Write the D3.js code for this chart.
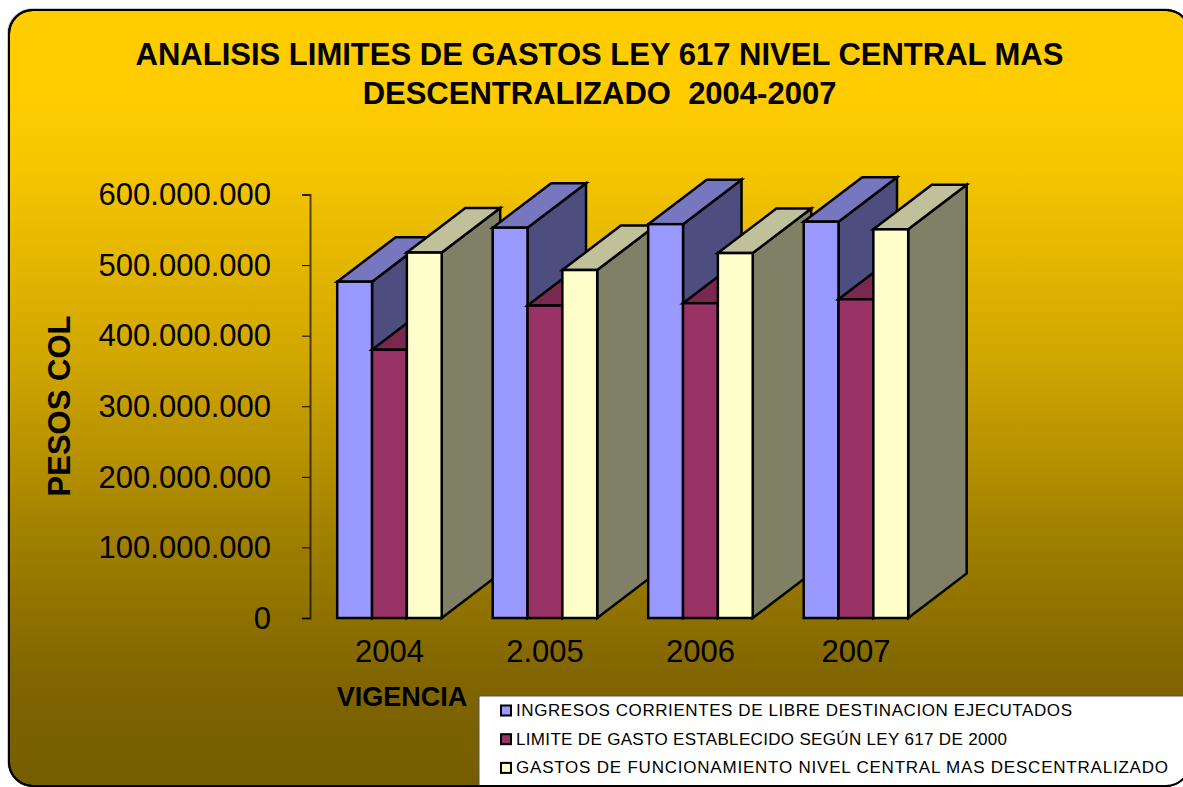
<!DOCTYPE html>
<html><head><meta charset="utf-8">
<script src="https://cdn.jsdelivr.net/npm/d3@7/dist/d3.min.js"></script>
<style>html,body{margin:0;padding:0;background:#fff}svg{display:block}text{font-family:"Liberation Sans",Arial,sans-serif;fill:#000}</style>
</head><body><div id="chart"></div>
<script>
const categories = ["2004","2.005","2006","2007"];
const seriesNames = ["INGRESOS CORRIENTES DE LIBRE DESTINACION EJECUTADOS","LIMITE DE GASTO ESTABLECIDO SEGÚN LEY 617 DE 2000","GASTOS DE FUNCIONAMIENTO NIVEL CENTRAL MAS DESCENTRALIZADO"];
const ingresos = [476500000,553000000,558000000,561500000];
const limite = [380000000,442600000,446000000,451600000];
const gastos = [517700000,493000000,517000000,550600000];
const tickValues = [0,100000000,200000000,300000000,400000000,500000000,600000000];
const titleLines = ["ANALISIS LIMITES DE GASTOS LEY 617 NIVEL CENTRAL MAS","DESCENTRALIZADO  2004-2007"];
const frontColors = ["#9999FF","#993366","#FFFFCC"];
const topColors = ["#7777C0","#7A2850","#C0C09A"];
const sideColors = ["#4D4D80","#732650","#808066"];

const W=1183,H=787;
const svg=d3.select("#chart").append("svg").attr("width",W).attr("height",H);
const defs=svg.append("defs");
const g=defs.append("linearGradient").attr("id","bg").attr("gradientUnits","userSpaceOnUse").attr("x1",0).attr("y1",0).attr("x2",0).attr("y2",787);
[[100,"#FFCC00"],[170,"#F5C500"],[360,"#D0A600"],[540,"#A07F00"],[600,"#917400"],[680,"#806500"],[787,"#755D00"]]
  .forEach(s=>g.append("stop").attr("offset",s[0]/787).attr("stop-color",s[1]));
defs.append("clipPath").attr("id","frame").append("rect").attr("x",9).attr("y",10).attr("width",1181).attr("height",776).attr("rx",24);

svg.append("rect").attr("x",8).attr("y",9).attr("width",1181).attr("height",776).attr("rx",24).attr("fill","none").attr("stroke","#BBB").attr("stroke-width",1.5);
svg.append("rect").attr("x",9).attr("y",10).attr("width",1181).attr("height",776).attr("rx",24)
  .attr("fill","url(#bg)").attr("stroke","#000").attr("stroke-width",2);

titleLines.forEach((t,i)=>svg.append("text").attr("x",599.5).attr("y",65+i*39).attr("text-anchor","middle")
  .attr("font-size",31).attr("font-weight","bold").attr("xml:space","preserve").text(t));

const y=d3.scaleLinear().domain([0,600000000]).range([618,194.5]);
const x0=d3.scaleBand().domain(categories).range([311.7,933.7]).paddingInner(0.328).paddingOuter(0.164);
const x1=d3.scaleBand().domain(d3.range(3)).range([0,x0.bandwidth()]);
const dx=58.5,dy=-44.5;

const fmt=v=>d3.format(",")(v).replace(/,/g,".");
const axis=d3.axisLeft(y).tickValues(tickValues).tickFormat(fmt).tickSize(8).tickPadding(31);
const ax=svg.append("g").attr("transform","translate(310,0)").call(axis);
ax.select(".domain").attr("stroke","#000").attr("stroke-opacity",0.65).attr("stroke-width",2);
ax.selectAll("line").attr("stroke","#000");
ax.selectAll("text").attr("font-size",31).attr("font-family","Liberation Sans").attr("dy","0.33em");

const values=[ingresos,limite,gastos];
const marks=svg.append("g").attr("stroke","#000").attr("stroke-width",2.5).attr("stroke-linejoin","miter");
categories.forEach((c,ci)=>{
  values.forEach((vals,si)=>{
    const xl=x0(c)+x1(si), xr=xl+x1.bandwidth(), yt=y(vals[ci]), yb=y(0);
    const pts=a=>a.map(p=>p.join(",")).join(" ");
    marks.append("polygon").attr("points",pts([[xr,yt],[xr+dx,yt+dy],[xr+dx,yb+dy],[xr,yb]])).attr("fill",sideColors[si]);
    marks.append("polygon").attr("points",pts([[xl,yt],[xl+dx,yt+dy],[xr+dx,yt+dy],[xr,yt]])).attr("fill",topColors[si]);
    marks.append("rect").attr("x",xl).attr("y",yt).attr("width",xr-xl).attr("height",yb-yt).attr("fill",frontColors[si]);
  });
  svg.append("text").attr("x",x0(c)+x0.bandwidth()/2).attr("y",662).attr("text-anchor","middle").attr("font-size",31).text(c);
});

svg.append("text").attr("x",402).attr("y",706).attr("text-anchor","middle").attr("font-size",27).attr("font-weight","bold").text("VIGENCIA");
svg.append("text").attr("transform","translate(70,406) rotate(-90)").attr("text-anchor","middle").attr("font-size",31).attr("font-weight","bold").text("PESOS COL");

const leg=svg.append("g").attr("clip-path","url(#frame)");
leg.append("rect").attr("x",479).attr("y",696).attr("width",720).attr("height",100).attr("fill","#fff").attr("stroke","#555").attr("stroke-width",1);
const legW=[556,491,652];
seriesNames.forEach((n,i)=>{
  const ly=710.5+i*28.7;
  leg.append("rect").attr("x",501).attr("y",ly-5).attr("width",10).attr("height",10).attr("fill",frontColors[i]).attr("stroke","#000").attr("stroke-width",2);
  leg.append("text").attr("x",516).attr("y",ly+5.5).attr("font-size",17).attr("textLength",legW[i]).attr("lengthAdjust","spacing").text(n);
});
svg.append("rect").attr("x",9).attr("y",10).attr("width",1181).attr("height",776).attr("rx",24).attr("fill","none").attr("stroke","#000").attr("stroke-width",2);
</script></body></html>
